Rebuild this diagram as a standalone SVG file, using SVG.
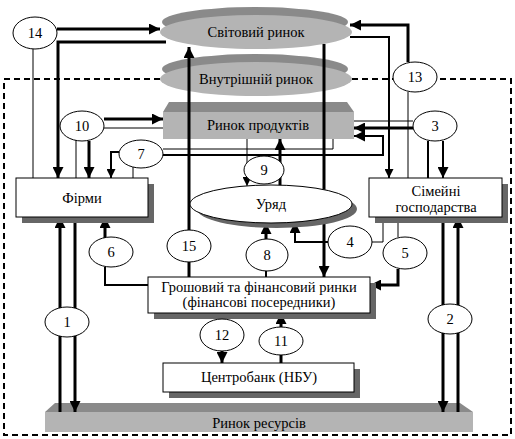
<svg xmlns="http://www.w3.org/2000/svg" width="515" height="439" viewBox="0 0 515 439" font-family="'Liberation Serif', 'Times New Roman', serif">
<defs>
<style>
text{font-family:'Liberation Serif','Times New Roman',serif;font-size:14.5px;fill:#000;text-anchor:middle}
.box{fill:#fff;stroke:#000;stroke-width:1}
.shadow{fill:#666}
.num{fill:#fff;stroke:#000;stroke-width:1}
.t1{fill:none;stroke:#000;stroke-width:1}
.t2{fill:none;stroke:#000;stroke-width:2}
.t3{fill:none;stroke:#000;stroke-width:3}
.dash{fill:none;stroke:#000;stroke-width:2;stroke-dasharray:6,4}
.dark{fill:#8a8a8a}
.light{fill:#b4b4b4}
</style>
<marker id="ah" markerUnits="userSpaceOnUse" markerWidth="12" markerHeight="11" refX="11" refY="5.5" orient="auto">
<path d="M0,0 L11,5.5 L0,11 z" fill="#000"/>
</marker>
<marker id="as" markerUnits="userSpaceOnUse" markerWidth="10" markerHeight="9" refX="9" refY="4.5" orient="auto">
<path d="M0,0 L9,4.5 L0,9 z" fill="#000"/>
</marker>
</defs>

<!-- dashed boundary -->
<g id="boundary">
<path class="dash" d="M160,79 H4 V435 H511 V79 H437"/>
<path class="dash" d="M352,79 H393"/>
</g>

<!-- markets -->
<g id="svitovyi">
<ellipse class="dark" cx="255" cy="22" rx="93" ry="15"/>
<ellipse class="light" cx="256" cy="32" rx="96" ry="17"/>
<text x="256" y="37">Світовий ринок</text>
</g>
<g id="vnutrishnii">
<ellipse class="dark" cx="255" cy="69" rx="93" ry="15"/>
<ellipse class="light" cx="256" cy="79" rx="96" ry="17"/>
<text x="256" y="84">Внутрішній ринок</text>
</g>
<g id="rynok-produktiv">
<polygon class="dark" points="163,112 169,102 347,102 354,112"/>
<rect class="light" x="163" y="112" width="191" height="27"/>
<text x="258" y="130">Ринок продуктів</text>
</g>
<g id="rynok-resursiv">
<polygon class="dark" points="45,412 55,403 460,403 473,412"/>
<rect class="light" x="45" y="412" width="428" height="20"/>
<text x="259" y="428">Ринок ресурсів</text>
</g>

<!-- connectors -->
<g id="connectors">
<path class="t3" d="M57,29 H160" marker-end="url(#ah)"/>
<path class="t3" d="M166,42 H58 V178" marker-end="url(#ah)"/>
<path class="t1" d="M33,49 V178"/>
<path class="t3" d="M189,230 V47" marker-end="url(#ah)"/>
<path class="t3" d="M189,262 V277"/>
<path class="t3" d="M324,44 V277" marker-end="url(#ah)"/>
<path class="t3" d="M408,62 V25 H350" marker-end="url(#ah)"/>
<path class="t1" d="M408,92 V178"/>
<path class="t2" d="M350,37 H389 V178" marker-end="url(#as)"/>
<path class="t3" d="M104,119 H163" marker-end="url(#ah)"/>
<path class="t1" d="M104,128 H163"/>
<path class="t1" d="M76,140 V178"/>
<path class="t3" d="M89,141 V178" marker-end="url(#ah)"/>
<path class="t3" d="M413,128 H354" marker-end="url(#ah)"/>
<path class="t1" d="M413,121 H354"/>
<path class="t2" d="M428,141 V178"/>
<path class="t2" d="M443,141 V178" marker-end="url(#ah)"/>
<path class="t1" d="M163,149 H333 V139"/>
<path class="t2" d="M163,155 H383 V136 H354" marker-end="url(#ah)"/>
<path class="t2" d="M119,152 H111 V178" marker-end="url(#as)"/>
<path class="t1" d="M133,167 V178"/>
<path class="t1" d="M247,139 V186" marker-end="url(#as)"/>
<path class="t3" d="M280,186 V139" marker-end="url(#ah)"/>
<path class="t3" d="M266,239 V223" marker-end="url(#ah)"/>
<path class="t2" d="M266,271 V277"/>
<path class="t2" d="M328,242 H295 V222" marker-end="url(#ah)"/>
<path class="t1" d="M371,242 H383 V217"/>
<path class="t1" d="M398,217 V237"/>
<path class="t3" d="M398,269 V285 H370" marker-end="url(#ah)"/>
<path class="t3" d="M105,238 V217" marker-end="url(#ah)"/>
<path class="t2" d="M105,267 V285 H148"/>
<path class="t3" d="M60,412 V217" marker-end="url(#ah)"/>
<path class="t3" d="M75,217 V412" marker-end="url(#ah)"/>
<path class="t3" d="M443,217 V412" marker-end="url(#ah)"/>
<path class="t3" d="M458,412 V217" marker-end="url(#ah)"/>
<path class="t3" d="M222,313 V363" marker-end="url(#ah)"/>
<path class="t3" d="M281,363 V313" marker-end="url(#ah)"/>
</g>

<!-- boxes -->
<g id="firmy">
<rect class="shadow" x="22" y="184" width="132" height="39"/>
<rect class="box" x="16" y="178" width="132" height="39"/>
<text x="82" y="203">Фірми</text>
</g>
<g id="simeini">
<rect class="shadow" x="375" y="184" width="133" height="39"/>
<rect class="box" x="369" y="178" width="133" height="39"/>
<text x="436" y="196">Сімейні</text>
<text x="436" y="212">господарства</text>
</g>
<g id="uriad">
<ellipse class="shadow" cx="277" cy="209" rx="80" ry="19"/>
<ellipse class="box" cx="271" cy="204" rx="81" ry="19"/>
<text x="271" y="209">Уряд</text>
</g>
<g id="groshovyi">
<rect class="shadow" x="154" y="283" width="222" height="36"/>
<rect class="box" x="148" y="277" width="222" height="36"/>
<text x="259" y="292">Грошовий та фінансовий ринки</text>
<text x="259" y="307">(фінансові посередники)</text>
</g>
<g id="tsentrobank">
<rect class="shadow" x="169" y="369" width="191" height="29"/>
<rect class="box" x="163" y="363" width="191" height="29"/>
<text x="259" y="382">Центробанк (НБУ)</text>
</g>

<!-- numbered labels -->
<g id="n14"><ellipse class="num" cx="35" cy="33" rx="22" ry="16"/><text x="35" y="38">14</text></g>
<g id="n10"><ellipse class="num" cx="82" cy="126" rx="22" ry="15"/><text x="82" y="131">10</text></g>
<g id="n7"><ellipse class="num" cx="141" cy="154" rx="22" ry="14"/><text x="141" y="159">7</text></g>
<g id="n9"><ellipse class="num" cx="264" cy="170" rx="20" ry="14"/><text x="264" y="175">9</text></g>
<g id="n3"><ellipse class="num" cx="435" cy="126" rx="22" ry="15"/><text x="435" y="131">3</text></g>
<g id="n13"><ellipse class="num" cx="415" cy="77" rx="22" ry="15"/><text x="415" y="82">13</text></g>
<g id="n15"><ellipse class="num" cx="189" cy="246" rx="22" ry="16"/><text x="189" y="251">15</text></g>
<g id="n8"><ellipse class="num" cx="267" cy="255" rx="21" ry="16"/><text x="267" y="260">8</text></g>
<g id="n4"><ellipse class="num" cx="350" cy="242" rx="22" ry="16"/><text x="350" y="247">4</text></g>
<g id="n5"><ellipse class="num" cx="405" cy="253" rx="22" ry="16"/><text x="405" y="258">5</text></g>
<g id="n6"><ellipse class="num" cx="111" cy="252" rx="22" ry="15"/><text x="111" y="257">6</text></g>
<g id="n1"><ellipse class="num" cx="67" cy="322" rx="22" ry="15"/><text x="67" y="327">1</text></g>
<g id="n2"><ellipse class="num" cx="450" cy="319" rx="22" ry="15"/><text x="450" y="324">2</text></g>
<g id="n12"><ellipse class="num" cx="222" cy="335" rx="22" ry="16"/><text x="222" y="340">12</text></g>
<g id="n11"><ellipse class="num" cx="281" cy="341" rx="22" ry="14"/><text x="281" y="346">11</text></g>
</svg>
